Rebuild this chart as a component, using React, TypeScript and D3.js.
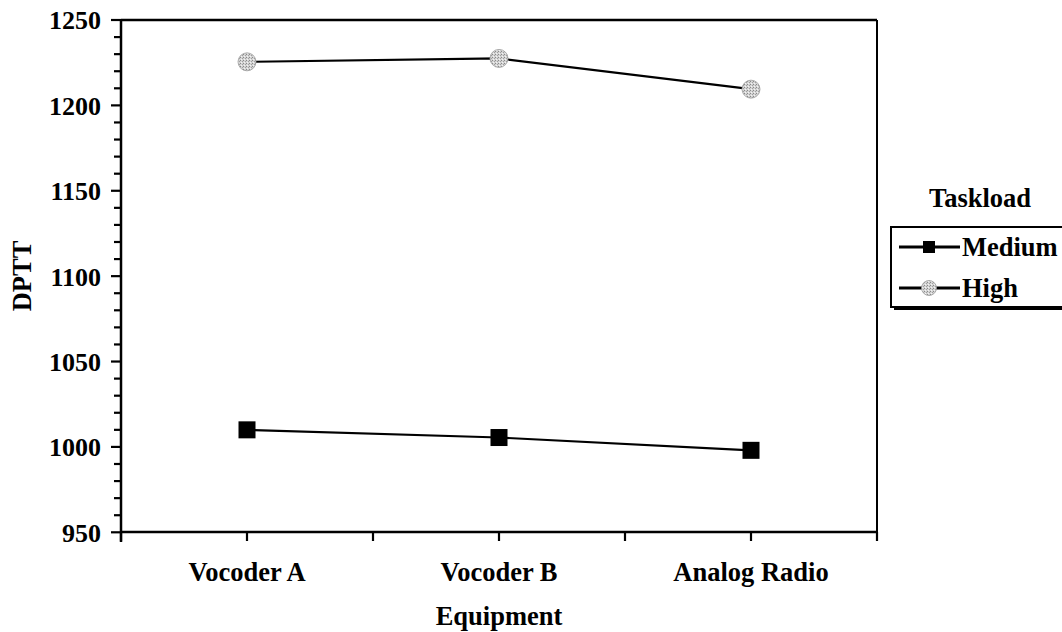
import * as d3 from "d3";

const categories = ["Vocoder A", "Vocoder B", "Analog Radio"];
const mediumValues = [1010, 1005.5, 998];
const highValues = [1225.5, 1227.5, 1209.5];
const yMajorTicks = [950, 1000, 1050, 1100, 1150, 1200, 1250];

const series = [
  { name: "Medium", values: mediumValues, marker: "square" },
  { name: "High", values: highValues, marker: "circle" },
];

const width = 1062;
const height = 632;
const margin = { top: 20, right: 185, bottom: 100, left: 121 };
const font = "'Liberation Serif', 'Times New Roman', serif";

function Marker({ type, x, y, size = 17 }: { type: string; x: number; y: number; size?: number }) {
  if (type === "square") {
    return <rect x={x - size / 2} y={y - size / 2} width={size} height={size} fill="#000" />;
  }
  return (
    <circle cx={x} cy={y} r={size / 2 + 0.5} fill="url(#speckle)" stroke="#9a9a9a" strokeWidth={0.8} />
  );
}

export default function App() {
  const x0 = margin.left;
  const x1 = width - margin.right;
  const y0 = height - margin.bottom;
  const y1 = margin.top;

  const xScale = d3.scaleBand().domain(categories).range([x0, x1]).padding(0);
  const yScale = d3.scaleLinear().domain([950, 1250]).range([y0 + 0.3, y1]);
  const minorTicks = d3.range(950, 1251, 10);

  const xTicks: number[] = [];
  categories.forEach((c) => {
    const s = xScale(c) ?? 0;
    xTicks.push(s, s + xScale.bandwidth() / 2);
  });
  xTicks.push(x1);

  const line = d3
    .line<number>()
    .x((_, i) => (xScale(categories[i]) ?? 0) + xScale.bandwidth() / 2)
    .y((d) => yScale(d));

  const legendX = 891;
  const legendY = 227;
  const textStyle = { fontFamily: font, fontWeight: "bold" as const, fontSize: 26.5 };
  const tickStyle = { ...textStyle, fontSize: 26 };

  return (
    <svg
      width={width}
      height={height}
      style={{ position: "absolute", left: 0, top: 0, background: "#fff" }}
    >
      <defs>
        <pattern id="speckle" width="3" height="3" patternUnits="userSpaceOnUse">
          <rect width="3" height="3" fill="#d4d4d4" />
          <rect x="0" y="0" width="1" height="1" fill="#8a8a8a" />
          <rect x="2" y="1" width="1" height="1" fill="#a0a0a0" />
          <rect x="1" y="2" width="1" height="1" fill="#f2f2f2" />
        </pattern>
      </defs>

      {/* frame */}
      <line x1={x0} y1={y1} x2={x1} y2={y1} stroke="#000" strokeWidth={2.5} />
      <line x1={x1} y1={y1} x2={x1} y2={y0} stroke="#000" strokeWidth={2} />
      <line x1={x0} y1={y1 - 1} x2={x0} y2={y0 + 10} stroke="#000" strokeWidth={2.5} />
      <line x1={x0 - 1} y1={y0} x2={x1 + 1} y2={y0} stroke="#000" strokeWidth={2.5} />

      {/* y ticks */}
      {minorTicks.map((t) => (
        <line
          key={`m${t}`}
          x1={t % 50 === 0 ? x0 - 10 : x0 - 7}
          x2={x0}
          y1={yScale(t)}
          y2={yScale(t)}
          stroke="#000"
          strokeWidth={2.2}
        />
      ))}
      {yMajorTicks.map((t) => (
        <text key={t} x={101} y={yScale(t)} dy="0.36em" textAnchor="end" style={tickStyle}>
          {t}
        </text>
      ))}

      {/* x ticks */}
      {xTicks.map((t, i) => (
        <line key={i} x1={t} x2={t} y1={y0} y2={y0 + 9} stroke="#000" strokeWidth={2.2} />
      ))}
      {categories.map((c) => (
        <text
          key={c}
          x={(xScale(c) ?? 0) + xScale.bandwidth() / 2}
          y={y0 + 49}
          textAnchor="middle"
          style={textStyle}
        >
          {c}
        </text>
      ))}

      <text x={499} y={625} textAnchor="middle" style={textStyle}>
        Equipment
      </text>
      <text
        transform={`translate(31, ${(y0 + y1) / 2}) rotate(-90)`}
        textAnchor="middle"
        style={textStyle}
      >
        DPTT
      </text>

      {/* series */}
      {series.map((s) => (
        <g key={s.name}>
          <path d={line(s.values) ?? ""} fill="none" stroke="#000" strokeWidth={2.2} />
          {s.values.map((v, i) => (
            <Marker
              key={i}
              type={s.marker}
              x={(xScale(categories[i]) ?? 0) + xScale.bandwidth() / 2}
              y={yScale(v)}
            />
          ))}
        </g>
      ))}

      {/* legend */}
      <text x={980} y={207} textAnchor="middle" style={textStyle}>
        Taskload
      </text>
      <rect x={legendX + 3} y={legendY + 3} width={200} height={80} fill="#000" />
      <rect x={legendX} y={legendY} width={200} height={80} fill="#fff" stroke="#000" strokeWidth={2} />
      {series.map((s, i) => {
        const ly = legendY + 20 + i * 41;
        return (
          <g key={s.name}>
            <line x1={899} x2={960} y1={ly} y2={ly} stroke="#000" strokeWidth={2.8} />
            <Marker type={s.marker} x={929} y={ly} size={s.marker === "square" ? 12 : 14} />
            <text x={962} y={ly} dy="0.35em" style={textStyle}>
              {s.name}
            </text>
          </g>
        );
      })}
    </svg>
  );
}
